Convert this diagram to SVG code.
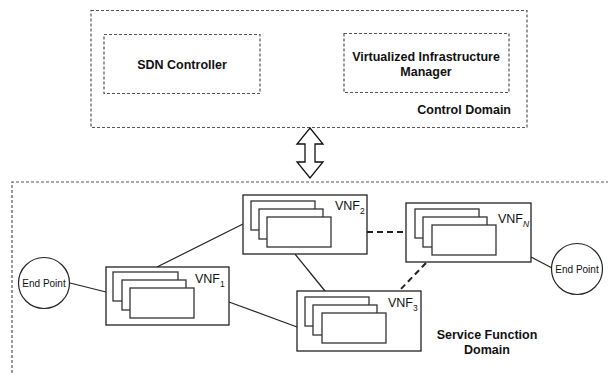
<svg xmlns="http://www.w3.org/2000/svg" width="608" height="373" viewBox="0 0 608 373">
<style>
.dom{fill:none;stroke:#555;stroke-width:1.2;stroke-dasharray:3 2}
.box{fill:#fff;stroke:#222;stroke-width:1.3}
.inner{fill:#fff;stroke:#333;stroke-width:1.3}
.b{font-family:"Liberation Sans",Arial,sans-serif;font-weight:bold;font-size:12.5px;fill:#111}
.t{font-family:"Liberation Sans",Arial,sans-serif;font-size:12.5px;fill:#111}
.s{font-size:8.5px}
.ep{font-family:"Liberation Sans",Arial,sans-serif;font-size:10px;fill:#111}
.ln{stroke:#222;stroke-width:1.2;fill:none}
.dl{stroke:#222;stroke-width:2;fill:none;stroke-dasharray:6 4}
</style>
<rect width="608" height="373" fill="#fff"/>
<g id="control-domain">
<rect class="dom" x="91" y="10.5" width="436" height="117"/>
<text class="b" x="511" y="113.5" text-anchor="end">Control Domain</text>
</g>
<g id="sdn-controller">
<rect class="dom" x="104" y="34.5" width="156" height="59"/>
<text class="b" x="182" y="68.5" text-anchor="middle">SDN Controller</text>
</g>
<g id="vim">
<rect class="dom" x="344" y="33.5" width="165" height="59"/>
<text class="b" x="426" y="60.5" text-anchor="middle">Virtualized Infrastructure</text>
<text class="b" x="426" y="75.5" text-anchor="middle">Manager</text>
</g>
<g id="arrow">
<polygon points="310,128 323,144 315,144 315,162 323,162 310,178 297,162 305,162 305,144 297,144" fill="#fff" stroke="#111" stroke-width="1.3"/>
</g>
<g id="service-domain">
<path class="dom" d="M12,373 V182 H608"/>
<text class="b" x="487" y="339" text-anchor="middle">Service Function</text>
<text class="b" x="487" y="354" text-anchor="middle">Domain</text>
</g>
<g id="connectors">
<line class="ln" x1="70" y1="283" x2="106" y2="292"/>
<line class="ln" x1="157" y1="267" x2="243" y2="224"/>
<line class="ln" x1="229" y1="302" x2="297" y2="327"/>
<line class="ln" x1="295" y1="254" x2="325" y2="291"/>
<line class="dl" x1="367" y1="232" x2="406" y2="232"/>
<line class="dl" x1="426" y1="263" x2="399" y2="291"/>
<line class="ln" x1="531" y1="257" x2="552" y2="268"/>
</g>
<g id="endpoint-left">
<circle cx="44" cy="283" r="25.5" fill="#fff" stroke="#222" stroke-width="1.2"/>
<text class="ep" x="44" y="287" text-anchor="middle">End Point</text>
</g>
<g id="endpoint-right">
<circle cx="577" cy="269" r="25.5" fill="#fff" stroke="#222" stroke-width="1.2"/>
<text class="ep" x="577" y="273" text-anchor="middle">End Point</text>
</g>
<g id="vnf1">
<rect class="box" x="106" y="267" width="123" height="58"/>
<rect class="inner" x="113" y="272" width="65" height="29"/>
<rect class="inner" x="122" y="280" width="64" height="30"/>
<rect class="inner" x="130" y="288" width="64" height="30"/>
<text class="t" x="195" y="283">VNF<tspan class="s" dy="4">1</tspan></text>
</g>
<g id="vnf2">
<rect class="box" x="243" y="195" width="124" height="59"/>
<rect class="inner" x="251" y="201" width="64" height="29"/>
<rect class="inner" x="259" y="209" width="64" height="30"/>
<rect class="inner" x="267" y="217" width="64" height="30"/>
<text class="t" x="335" y="210">VNF<tspan class="s" dy="4">2</tspan></text>
</g>
<g id="vnfn">
<rect class="box" x="406" y="203" width="125" height="59"/>
<rect class="inner" x="415" y="209" width="64" height="29"/>
<rect class="inner" x="423" y="217" width="64" height="30"/>
<rect class="inner" x="432" y="225" width="64" height="30"/>
<text class="t" x="498" y="223">VNF<tspan class="s" font-style="italic" dy="4">N</tspan></text>
</g>
<g id="vnf3">
<rect class="box" x="297" y="291" width="124" height="60"/>
<rect class="inner" x="305" y="297" width="64" height="29"/>
<rect class="inner" x="313" y="305" width="64" height="30"/>
<rect class="inner" x="322" y="313" width="64" height="30"/>
<text class="t" x="388" y="307">VNF<tspan class="s" dy="4">3</tspan></text>
</g>
</svg>
